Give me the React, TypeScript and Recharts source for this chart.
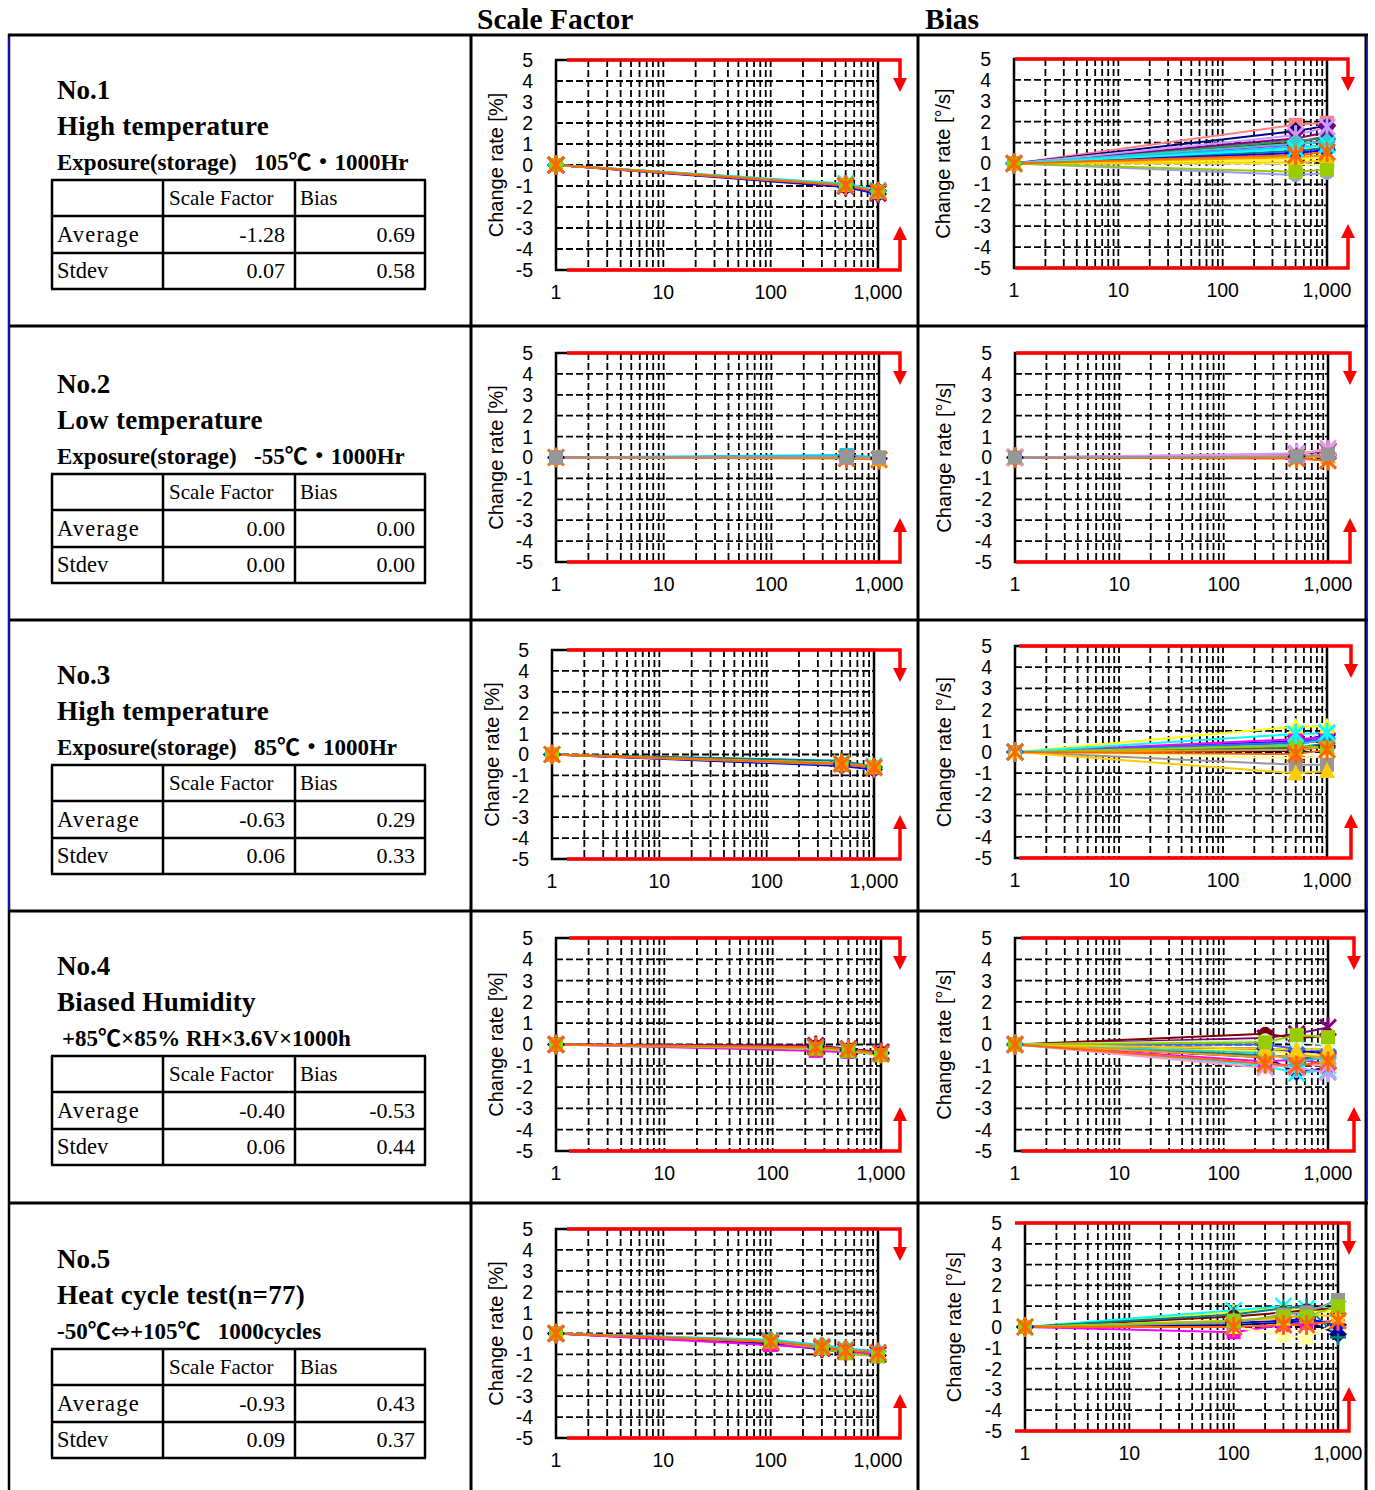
import React from 'react';
import { LineChart, Line, XAxis, YAxis, CartesianGrid, ReferenceLine, ReferenceArea } from 'recharts';

// ---------- data ----------
const hoursStorage = [1, 500, 1000];
const hoursHumidity = [1, 250, 500, 1000];
const hoursCycle = [1, 100, 300, 500, 1000];

const xTicks = [1, 2, 3, 4, 5, 6, 7, 8, 9, 10, 20, 30, 40, 50, 60, 70, 80, 90, 100, 200, 300, 400, 500, 600, 700, 800, 900, 1000];
const xTickLabels: Record<number, string> = { 1: '1', 10: '10', 100: '100', 1000: '1,000' };
const yTicks = [-5, -4, -3, -2, -1, 0, 1, 2, 3, 4, 5];

const testNos = ['No.1', 'No.2', 'No.3', 'No.4', 'No.5'];
const testTitles = ['High temperature', 'Low temperature', 'High temperature', 'Biased Humidity', 'Heat cycle test(n=77)'];
const testConditions = [
  'Exposure(storage)   105\u2103\u30fb1000Hr',
  'Exposure(storage)   -55\u2103\u30fb1000Hr',
  'Exposure(storage)   85\u2103\u30fb1000Hr',
  '+85\u2103\u00d785% RH\u00d73.6V\u00d71000h',
  '-50\u2103\u21d4+105\u2103   1000cycles',
];
const sfAverage = ['-1.28', '0.00', '-0.63', '-0.40', '-0.93'];
const sfStdev = ['0.07', '0.00', '0.06', '0.06', '0.09'];
const biasAverage = ['0.69', '0.00', '0.29', '-0.53', '0.43'];
const biasStdev = ['0.58', '0.00', '0.33', '0.44', '0.37'];

const sf1Values = [
  [0, -0.92, -1.22], [0, -0.98, -1.3], [0, -1.05, -1.38], [0, -0.88, -1.2],
  [0, -1.0, -1.34], [0, -0.9, -1.25], [0, -0.95, -1.28], [0, -0.97, -1.27],
];
const sf1Styles = ['navy', 'magenta', 'blue', 'cyan', 'purple', 'turq', 'lime', 'orange'];

const b1Values = [
  [0, 0.6, 0.75], [0, 0.5, 0.65], [0, 1.0, 1.3], [0, 0.9, 1.1], [0, 1.1, 1.2], [0, 0.8, 0.85],
  [0, 0.2, 0.3], [0, 0.3, 0.4], [0, 0.0, -0.1], [0, -0.55, -0.45], [0, 1.85, 1.95], [0, 1.55, 1.8],
  [0, 1.2, 1.5], [0, 1.35, 1.75], [0, 0.95, 1.05], [0, 0.7, 0.9], [0, 0.05, 0.15], [0, -0.4, -0.3], [0, 0.4, 0.55],
];
const b1Styles = ['teal', 'blue', 'maroon', 'magenta', 'green', 'sky', 'yellow', 'amber', 'paleyel', 'periw', 'salmon', 'navy', 'purple', 'lavender', 'turq', 'cyan', 'gold', 'lime', 'orange'];

const sf2Values = [[0, 0.05, -0.05], [0, 0.12, 0.0], [0, 0.0, -0.05], [0, -0.05, -0.1], [0, 0.02, -0.08], [0, 0.0, 0.0]];
const sf2Styles = ['navy', 'sky', 'magenta', 'orange', 'amber', 'gray'];

const b2Values = [[0, 0.15, 0.3], [0, 0.2, 0.35], [0, 0.05, 0.1], [0, 0.0, 0.05], [0, -0.05, -0.15], [0, 0.1, 0.45], [0, 0.05, 0.15]];
const b2Styles = ['purple', 'lavender', 'navy', 'amber', 'orange', 'pink', 'gray'];

const sf3Values = [
  [0, -0.45, -0.6], [0, -0.5, -0.65], [0, -0.4, -0.55], [0, -0.55, -0.72],
  [0, -0.3, -0.6], [0, -0.48, -0.62], [0, -0.42, -0.58], [0, -0.45, -0.63],
];
const sf3Styles = ['navy', 'magenta', 'cyan', 'blue', 'teal', 'lime', 'amber', 'orange'];

const b3Values = [
  [0, 0.05, 0.3], [0, 0.15, 0.35], [0, 0.5, 0.8], [0, 0.4, 0.55], [0, 0.6, 0.7], [0, 0.2, 0.4],
  [0, 0.35, 0.6], [0, 0.45, 0.65], [0, 0.1, 0.25], [0, -0.3, -0.2], [0, 0.3, 0.2], [0, -0.6, -0.6],
  [0, -1.0, -0.9], [0, 1.2, 1.2], [0, 0.85, 0.9], [0, -0.1, 0.1],
];
const b3Styles = ['navy', 'maroon', 'blue', 'purple', 'magenta', 'teal', 'turq', 'royal', 'amber', 'paleyel', 'lime', 'gray', 'gold', 'yellow', 'cyanstar', 'orange'];

const sf4Values = [
  [0, -0.3, -0.35, -0.45], [0, -0.1, -0.25, -0.4], [0, -0.15, -0.3, -0.45], [0, -0.05, -0.2, -0.35],
  [0, -0.2, -0.3, -0.5], [0, -0.12, -0.22, -0.42],
];
const sf4Styles = ['magenta', 'navy', 'cyan', 'purple', 'lime', 'orange'];

const b4Values = [
  [0, -0.6, -1.3, -1.1], [0, -0.8, -0.7, -0.9], [0, -0.3, -0.4, -0.5], [0, -1.0, -1.35, -1.2],
  [0, 0.3, 0.5, 0.8], [0, 0.5, 0.3, 0.4], [0, -0.5, -0.6, -0.7], [0, -0.2, -0.3, -0.4],
  [0, -1.1, -0.9, -1.0], [0, -0.9, -1.1, -1.3], [0, -0.4, -0.8, -0.6], [0, 0.0, -0.2, -0.3],
  [0, 0.2, 0.1, 0.0], [0, -0.6, -0.5, -0.6], [0, -0.2, -0.25, -0.2], [0, 0.1, 0.45, 0.35], [0, -0.9, -1.0, -0.8],
];
const b4Styles = ['navy', 'magenta', 'yellow', 'cyan', 'purple', 'maroon', 'teal', 'blue', 'pink', 'lavender', 'turq', 'royal', 'mint', 'amber', 'gold', 'lime', 'orange'];

const sf5Values = [
  [0, -0.35, -0.6, -0.75, -0.9], [0, -0.45, -0.7, -0.85, -1.0], [0, -0.3, -0.55, -0.7, -0.85],
  [0, -0.5, -0.75, -0.9, -1.05], [0, -0.55, -0.7, -0.9, -1.0], [0, -0.4, -0.7, -0.95, -1.1], [0, -0.4, -0.65, -0.8, -0.92],
];
const sf5Styles = ['cyan', 'purple', 'turq', 'navy', 'magenta', 'lime', 'orange'];

const b5Values = [
  [0, 0.1, 0.2, 0.3, -0.35], [0, -0.25, 0.1, 0.2, 0.3], [0, 0.7, 0.9, 0.8, 0.7], [0, 0.8, 1.0, 0.9, 0.9],
  [0, 0.5, 0.7, 0.8, 0.9], [0, 0.6, 0.9, 1.0, -0.5], [0, 0.0, -0.4, -0.5, 0.2], [0, 0.2, 0.3, 0.4, 0.1],
  [0, 0.3, 0.4, 0.6, 0.5], [0, 0.2, 0.6, 0.7, 1.3], [0, 0.3, 0.5, 0.5, 1.0], [0, 0.0, 0.1, 0.1, 0.3],
];
const b5Styles = ['navy', 'magenta', 'yellow', 'cyan', 'maroon', 'teal', 'paleyel', 'blue', 'gold', 'gray', 'lime', 'orange'];

// ---------- styles ----------
const PALETTE: Record<string, { c: string; m: string }> = {
  navy: { c: '#000080', m: 'diamond' },
  magenta: { c: '#FF00FF', m: 'square' },
  yellow: { c: '#FFFF00', m: 'triangle' },
  cyan: { c: '#00FFFF', m: 'x' },
  cyanstar: { c: '#00FFFF', m: 'star' },
  purple: { c: '#800080', m: 'star' },
  maroon: { c: '#800000', m: 'circle' },
  teal: { c: '#008080', m: 'plus' },
  blue: { c: '#0000FF', m: 'diamond' },
  sky: { c: '#00CCFF', m: 'square' },
  salmon: { c: '#FF8080', m: 'square' },
  lavender: { c: '#CC99FF', m: 'star' },
  turq: { c: '#33CCCC', m: 'diamond' },
  green: { c: '#339966', m: 'circle' },
  gold: { c: '#FFCC00', m: 'triangle' },
  lime: { c: '#99CC00', m: 'square' },
  periw: { c: '#9999FF', m: 'circle' },
  orange: { c: '#FF6600', m: 'star' },
  amber: { c: '#FF9900', m: 'triangle' },
  paleyel: { c: '#FFFF99', m: 'triangle' },
  royal: { c: '#3366FF', m: 'diamond' },
  pink: { c: '#FF99CC', m: 'x' },
  gray: { c: '#969696', m: 'square' },
  mint: { c: '#CCFFCC', m: 'circle' },
};

function makeDot(color: string, shape: string) {
  return (p: any) => {
    const { cx, cy, index } = p;
    const k = `d${index}`;
    if (cx == null || cy == null) return <g key={k} />;
    switch (shape) {
      case 'square':
        return <rect key={k} x={cx - 7} y={cy - 7} width={14} height={14} fill={color} />;
      case 'diamond':
        return <polygon key={k} points={`${cx},${cy - 9} ${cx + 9},${cy} ${cx},${cy + 9} ${cx - 9},${cy}`} fill={color} />;
      case 'triangle':
        return <polygon key={k} points={`${cx},${cy - 9} ${cx + 8},${cy + 7} ${cx - 8},${cy + 7}`} fill={color} />;
      case 'circle':
        return <circle key={k} cx={cx} cy={cy} r={7} fill={color} />;
      case 'x':
        return (
          <g key={k} stroke={color} strokeWidth={2.5}>
            <line x1={cx - 8} y1={cy - 8} x2={cx + 8} y2={cy + 8} />
            <line x1={cx - 8} y1={cy + 8} x2={cx + 8} y2={cy - 8} />
          </g>
        );
      case 'plus':
        return (
          <g key={k} stroke={color} strokeWidth={2.5}>
            <line x1={cx - 8} y1={cy} x2={cx + 8} y2={cy} />
            <line x1={cx} y1={cy - 8} x2={cx} y2={cy + 8} />
          </g>
        );
      default:
        return (
          <g key={k} stroke={color} strokeWidth={3}>
            <line x1={cx - 8} y1={cy - 8} x2={cx + 8} y2={cy + 8} />
            <line x1={cx - 8} y1={cy + 8} x2={cx + 8} y2={cy - 8} />
            <line x1={cx} y1={cy - 10} x2={cx} y2={cy + 10} />
          </g>
        );
    }
  };
}

type Spec = {
  plot: [number, number, number, number];
  hours: number[];
  values: number[][];
  styles: string[];
  unit: string;
  labelOffset: number;
  redStart: number;
  redExt: number;
};

const RED = '#FF0000';

function SeriesChart({ spec }: { spec: Spec }) {
  const [L, T, R, B] = spec.plot;
  const ml = 90, mt = 25, mr = 45, mb = 45;
  const width = R - L + ml + mr;
  const height = B - T + mt + mb;
  const data = spec.hours.map((h, j) => {
    const row: any = { h };
    spec.values.forEach((v, i) => { row['s' + i] = v[j]; });
    return row;
  });
  const topShape = (p: any) => {
    const xs = Math.min(p.x1, p.x2) + spec.redStart;
    const xe = Math.max(p.x1, p.x2) + spec.redExt;
    const y = p.y1;
    return (
      <g>
        <path d={`M${xs},${y} H${xe} V${y + 18}`} stroke={RED} strokeWidth={3.5} fill="none" />
        <path d={`M${xe - 7},${y + 18} L${xe + 7},${y + 18} L${xe},${y + 32} Z`} fill={RED} />
      </g>
    );
  };
  const bottomShape = (p: any) => {
    const xs = Math.min(p.x1, p.x2) + spec.redStart;
    const xe = Math.max(p.x1, p.x2) + spec.redExt;
    const y = p.y1;
    return (
      <g>
        <path d={`M${xs},${y} H${xe} V${y - 30}`} stroke={RED} strokeWidth={3.5} fill="none" />
        <path d={`M${xe - 7},${y - 30} L${xe + 7},${y - 30} L${xe},${y - 44} Z`} fill={RED} />
      </g>
    );
  };
  return (
    <div style={{ position: 'absolute', left: L - ml, top: T - mt, fontFamily: '"Liberation Sans", Arial, sans-serif' }}>
      <LineChart width={width} height={height} data={data} margin={{ top: mt, right: mr, bottom: 0, left: 0 }}>
        <CartesianGrid stroke="#000" strokeDasharray="7 3" strokeWidth={1.8} />
        <XAxis
          dataKey="h" type="number" scale="log" domain={[1, 1000]} ticks={xTicks} interval={0}
          tickFormatter={(v: number) => xTickLabels[v] ?? ''} tickLine={false} axisLine={false}
          tickMargin={9} height={mb} tick={{ fill: '#000', fontSize: 19.5 }}
        />
        <YAxis
          type="number" domain={[-5, 5]} ticks={yTicks} interval={0} width={ml}
          tickLine={false} axisLine={false} tickMargin={17} tick={{ fill: '#000', fontSize: 19.5 }}
          label={{ value: `Change rate [${spec.unit}]`, angle: -90, position: 'insideLeft', offset: spec.labelOffset, style: { textAnchor: 'middle', fontSize: 20, fill: '#000' } }}
        />
        <ReferenceArea x1={1} x2={1000} y1={-5} y2={5} fill="none" fillOpacity={0} stroke="#000" strokeWidth={2.5} />
        {spec.values.map((_, i) => {
          const st = PALETTE[spec.styles[i]];
          return (
            <Line
              key={i} dataKey={'s' + i} stroke={st.c} strokeWidth={2} isAnimationActive={false}
              dot={makeDot(st.c, st.m)} activeDot={false}
            />
          );
        })}
        <ReferenceLine y={5} shape={topShape} />
        <ReferenceLine y={-5} shape={bottomShape} />
      </LineChart>
    </div>
  );
}

const specs: Spec[] = [
  { plot: [556, 60, 878, 270], hours: hoursStorage, values: sf1Values, styles: sf1Styles, unit: '%', labelOffset: 30, redStart: 11, redExt: 22 },
  { plot: [1014, 59, 1327, 268], hours: hoursStorage, values: b1Values, styles: b1Styles, unit: '\u00b0/s', labelOffset: 19, redStart: 1, redExt: 21 },
  { plot: [556, 353, 879, 562], hours: hoursStorage, values: sf2Values, styles: sf2Styles, unit: '%', labelOffset: 30, redStart: 11, redExt: 21 },
  { plot: [1015, 353, 1328, 562], hours: hoursStorage, values: b2Values, styles: b2Styles, unit: '\u00b0/s', labelOffset: 19, redStart: 1, redExt: 22 },
  { plot: [552, 650, 874, 859], hours: hoursStorage, values: sf3Values, styles: sf3Styles, unit: '%', labelOffset: 30, redStart: 15, redExt: 26 },
  { plot: [1015, 646, 1327, 858], hours: hoursStorage, values: b3Values, styles: b3Styles, unit: '\u00b0/s', labelOffset: 19, redStart: 4, redExt: 24 },
  { plot: [556, 938, 881, 1151], hours: hoursHumidity, values: sf4Values, styles: sf4Styles, unit: '%', labelOffset: 30, redStart: 13, redExt: 19 },
  { plot: [1015, 938, 1328, 1151], hours: hoursHumidity, values: b4Values, styles: b4Styles, unit: '\u00b0/s', labelOffset: 19, redStart: 6, redExt: 26 },
  { plot: [556, 1229, 878, 1438], hours: hoursCycle, values: sf5Values, styles: sf5Styles, unit: '%', labelOffset: 30, redStart: 11, redExt: 22 },
  { plot: [1025, 1223, 1338, 1431], hours: hoursCycle, values: b5Values, styles: b5Styles, unit: '\u00b0/s', labelOffset: 19, redStart: -10, redExt: 11 },
];

const rowTops = [35, 326, 620, 911, 1203];
const rowShift = [0, 3, 0, 0, 1];
const SERIF = '"Liberation Serif", "Times New Roman", serif';
const CJK = '"Noto Sans CJK JP", sans-serif';

function conditionRuns(s: string) {
  const out: React.ReactNode[] = [];
  let buf = '';
  const flush = (k: number) => { if (buf) { out.push(<tspan key={'t' + k}>{buf}</tspan>); buf = ''; } };
  Array.from(s).forEach((ch, k) => {
    if (ch === '\u2103' || ch === '\u30fb') { flush(k); out.push(<tspan key={'c' + k} fontFamily={CJK}>{ch}</tspan>); }
    else if (ch === '\u21d4') { flush(k); out.push(<tspan key={'a' + k} fontFamily={'"DejaVu Sans", sans-serif'} fontWeight="normal">{ch}</tspan>); }
    else buf += ch;
  });
  flush(9999);
  return out;
}

function TextPanel({ i }: { i: number }) {
  const T = rowTops[i] + rowShift[i];
  const tTop = T + 145;
  const rows = [tTop, tTop + 36, tTop + 73, tTop + 109];
  const cols = [52, 163, 295, 425];
  return (
    <g fontFamily={SERIF} fill="#000">
      <text x={57} y={T + 64} fontSize={27} fontWeight="bold">{testNos[i]}</text>
      <text x={57} y={T + 100} fontSize={27} fontWeight="bold" letterSpacing={0.3}>{testTitles[i]}</text>
      <text x={i === 3 ? 62 : 57} y={T + 135} fontSize={23} fontWeight="bold" style={{ whiteSpace: 'pre' }}>{conditionRuns(testConditions[i])}</text>
      {rows.map((y, k) => <line key={'h' + k} x1={cols[0] - 1} x2={cols[3] + 1} y1={y} y2={y} stroke="#000" strokeWidth={2.5} />)}
      {cols.map((x, k) => <line key={'v' + k} x1={x} x2={x} y1={rows[0]} y2={rows[3]} stroke="#000" strokeWidth={2.5} />)}
      <text x={169} y={tTop + 25} fontSize={21}>Scale Factor</text>
      <text x={300} y={tTop + 25} fontSize={21}>Bias</text>
      <text x={57} y={tTop + 62} fontSize={22.5} letterSpacing={1.2}>Average</text>
      <text x={285} y={tTop + 62} fontSize={22} textAnchor="end">{sfAverage[i]}</text>
      <text x={415} y={tTop + 62} fontSize={22} textAnchor="end">{biasAverage[i]}</text>
      <text x={57} y={tTop + 98} fontSize={22.5}>Stdev</text>
      <text x={285} y={tTop + 98} fontSize={22} textAnchor="end">{sfStdev[i]}</text>
      <text x={415} y={tTop + 98} fontSize={22} textAnchor="end">{biasStdev[i]}</text>
    </g>
  );
}

export default function App() {
  return (
    <div style={{ position: 'absolute', left: 0, top: 0, width: 1375, height: 1490, background: '#fff', overflow: 'hidden' }}>
      <svg width={1375} height={1490} style={{ position: 'absolute', left: 0, top: 0 }}>
        <text x={477} y={29} fontFamily={SERIF} fontSize={29.5} fontWeight="bold">Scale Factor</text>
        <text x={925} y={29} fontFamily={SERIF} fontSize={29.5} fontWeight="bold">Bias</text>
        {rowTops.map((y, k) => <line key={'r' + k} x1={8} x2={1368} y1={y} y2={y} stroke="#000" strokeWidth={3} />)}
        <line x1={9} x2={9} y1={34} y2={1490} stroke="#000" strokeWidth={2.5} />
        <line x1={9} x2={9} y1={37} y2={910} stroke="#1010B0" strokeWidth={2} />
        <line x1={471} x2={471} y1={34} y2={1490} stroke="#000" strokeWidth={3} />
        <line x1={918} x2={918} y1={34} y2={1490} stroke="#000" strokeWidth={3} />
        <line x1={1366} x2={1366} y1={34} y2={1490} stroke="#000" strokeWidth={3} />
        <line x1={1367} x2={1367} y1={37} y2={1200} stroke="#1010B0" strokeWidth={1.5} />
        {testNos.map((_, i) => <TextPanel key={i} i={i} />)}
      </svg>
      {specs.map((s, i) => <SeriesChart key={i} spec={s} />)}
    </div>
  );
}
